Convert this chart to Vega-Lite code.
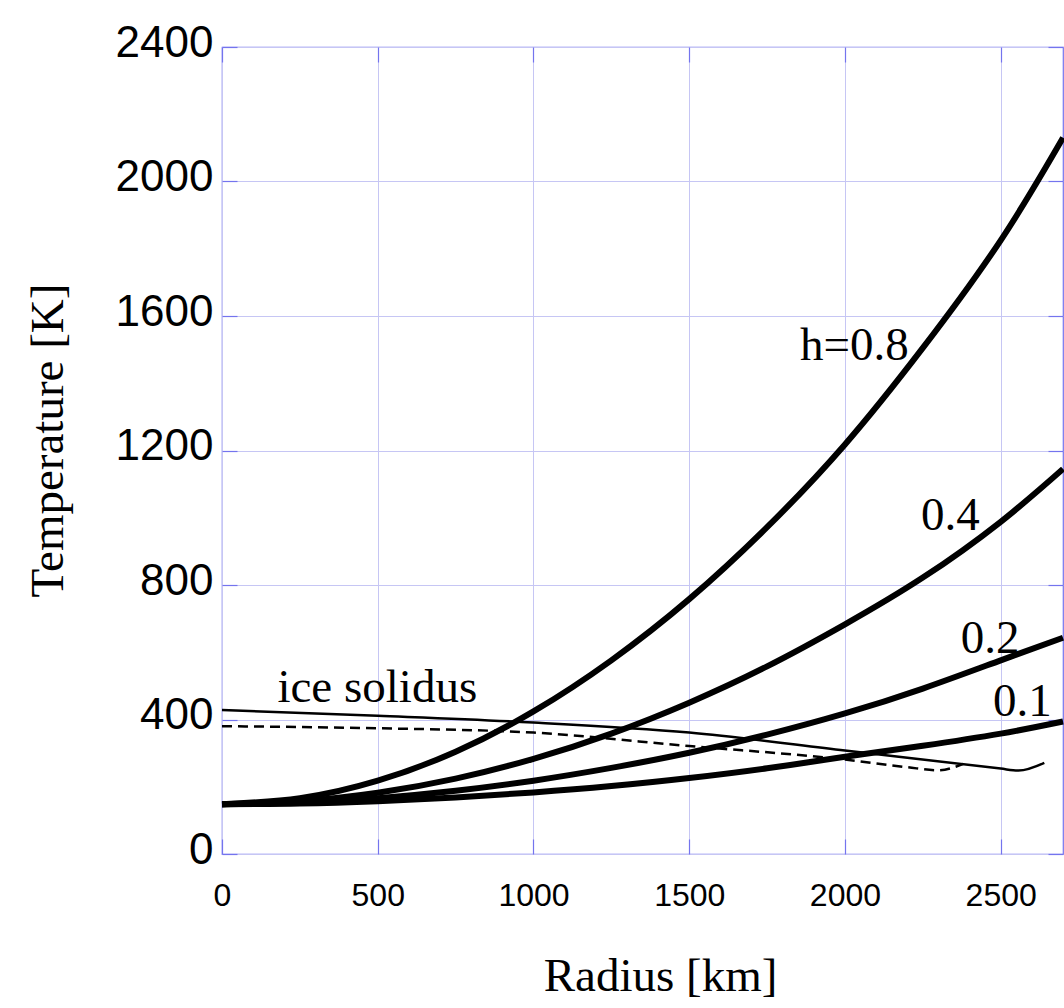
{
  "$schema": "https://vega.github.io/schema/vega-lite/v6.json",
  "width": 841,
  "height": 807,
  "autosize": {"type": "none"},
  "padding": {"left": 222, "top": 47, "right": 1, "bottom": 154},
  "background": "white",
  "config": {
    "view": {"stroke": "#7474ee", "strokeWidth": 1.2},
    "axis": {"domain": false}
  },
  "datasets": {
    "curves": [
      {"h": "0.8", "r": 0, "T": 148}, {"h": "0.8", "r": 250, "T": 166}, {"h": "0.8", "r": 500, "T": 218}, {"h": "0.8", "r": 750, "T": 304},
      {"h": "0.8", "r": 1000, "T": 424}, {"h": "0.8", "r": 1250, "T": 576}, {"h": "0.8", "r": 1500, "T": 758}, {"h": "0.8", "r": 1750, "T": 972},
      {"h": "0.8", "r": 2000, "T": 1218}, {"h": "0.8", "r": 2250, "T": 1505}, {"h": "0.8", "r": 2500, "T": 1825}, {"h": "0.8", "r": 2700, "T": 2130},
      {"h": "0.4", "r": 0, "T": 148}, {"h": "0.4", "r": 250, "T": 157}, {"h": "0.4", "r": 500, "T": 182}, {"h": "0.4", "r": 750, "T": 224},
      {"h": "0.4", "r": 1000, "T": 283}, {"h": "0.4", "r": 1250, "T": 358}, {"h": "0.4", "r": 1500, "T": 450}, {"h": "0.4", "r": 1750, "T": 558},
      {"h": "0.4", "r": 2000, "T": 683}, {"h": "0.4", "r": 2250, "T": 822}, {"h": "0.4", "r": 2500, "T": 988}, {"h": "0.4", "r": 2700, "T": 1145},
      {"h": "0.2", "r": 0, "T": 148}, {"h": "0.2", "r": 250, "T": 153}, {"h": "0.2", "r": 500, "T": 166}, {"h": "0.2", "r": 750, "T": 188},
      {"h": "0.2", "r": 1000, "T": 218}, {"h": "0.2", "r": 1250, "T": 256}, {"h": "0.2", "r": 1500, "T": 301}, {"h": "0.2", "r": 1750, "T": 355},
      {"h": "0.2", "r": 2000, "T": 418}, {"h": "0.2", "r": 2250, "T": 492}, {"h": "0.2", "r": 2500, "T": 576}, {"h": "0.2", "r": 2700, "T": 643},
      {"h": "0.1", "r": 0, "T": 148}, {"h": "0.1", "r": 250, "T": 150}, {"h": "0.1", "r": 500, "T": 157}, {"h": "0.1", "r": 750, "T": 168},
      {"h": "0.1", "r": 1000, "T": 183}, {"h": "0.1", "r": 1250, "T": 202}, {"h": "0.1", "r": 1500, "T": 226}, {"h": "0.1", "r": 1750, "T": 255},
      {"h": "0.1", "r": 2000, "T": 289}, {"h": "0.1", "r": 2250, "T": 322}, {"h": "0.1", "r": 2500, "T": 358}, {"h": "0.1", "r": 2700, "T": 394}
    ],
    "solidus": [
      {"r": 0, "T": 428}, {"r": 500, "T": 411}, {"r": 1000, "T": 391}, {"r": 1500, "T": 361},
      {"r": 2000, "T": 308}, {"r": 2500, "T": 254}, {"r": 2557, "T": 248}, {"r": 2640, "T": 271}
    ],
    "solidus2": [
      {"r": 0, "T": 380}, {"r": 500, "T": 374}, {"r": 1000, "T": 361}, {"r": 1500, "T": 321},
      {"r": 2000, "T": 281}, {"r": 2200, "T": 258}, {"r": 2300, "T": 249}, {"r": 2380, "T": 268}
    ],
    "labels": [
      {"label": "h=0.8", "r": 1856, "T": 1469},
      {"label": "0.4", "r": 2244, "T": 963},
      {"label": "0.2", "r": 2372, "T": 597},
      {"label": "0.1", "r": 2475, "T": 410},
      {"label": "ice solidus", "r": 178, "T": 452}
    ]
  },
  "resolve": {"axis": {"x": "independent", "y": "independent"}},
  "layer": [
    {
      "data": {"name": "solidus"},
      "mark": {"type": "line", "color": "black", "strokeWidth": 2.5, "interpolate": "monotone"},
      "encoding": {
        "x": {"field": "r", "type": "quantitative",
          "scale": {"domain": [0, 2700], "nice": false, "zero": false},
          "axis": {
            "orient": "bottom", "values": [0, 500, 1000, 1500, 2000, 2500], "format": "d",
            "ticks": false, "grid": true, "gridColor": "#c6c6f4", "gridWidth": 1,
            "labelFont": "Liberation Sans", "labelFontSize": 32, "labelColor": "black",
            "labelBaseline": "alphabetic", "labelPadding": 51, "labelFlush": false,
            "title": "Radius [km]", "titleFont": "Liberation Serif", "titleFontSize": 47,
            "titleFontWeight": "normal", "titleColor": "black",
            "titleX": 438, "titleY": 136, "titleAlign": "center", "titleBaseline": "alphabetic"
          }},
        "y": {"field": "T", "type": "quantitative",
          "scale": {"domain": [0, 2400], "nice": false},
          "axis": {
            "orient": "left", "values": [0, 400, 800, 1200, 1600, 2000, 2400], "format": "d",
            "ticks": false, "grid": true, "gridColor": "#c6c6f4", "gridWidth": 1,
            "labelFont": "Liberation Sans", "labelFontSize": 44, "labelColor": "black",
            "labelPadding": 9, "labelOffset": -4, "labelFlush": false,
            "title": "Temperature [K]", "titleFont": "Liberation Serif", "titleFontSize": 47,
            "titleFontWeight": "normal", "titleColor": "black",
            "titleAngle": 270, "titleX": -160, "titleY": 393, "titleAlign": "center", "titleBaseline": "alphabetic"
          }}
      }
    },
    {
      "data": {"name": "solidus2"},
      "mark": {"type": "line", "color": "black", "strokeWidth": 2.5, "strokeDash": [10, 6], "interpolate": "monotone"},
      "encoding": {
        "x": {"field": "r", "type": "quantitative",
          "axis": {"orient": "bottom", "values": [0, 500, 1000, 1500, 2000, 2500], "labels": false, "title": null, "grid": false, "ticks": true, "tickSize": -15, "tickColor": "#7474ee", "tickWidth": 1.2}},
        "y": {"field": "T", "type": "quantitative",
          "axis": {"orient": "left", "values": [0, 400, 800, 1200, 1600, 2000, 2400], "labels": false, "title": null, "grid": false, "ticks": true, "tickSize": -15, "tickColor": "#7474ee", "tickWidth": 1.2}}
      }
    },
    {
      "data": {"name": "curves"},
      "mark": {"type": "line", "color": "black", "strokeWidth": 6, "interpolate": "natural"},
      "encoding": {
        "x": {"field": "r", "type": "quantitative", "axis": null},
        "y": {"field": "T", "type": "quantitative", "axis": null},
        "detail": {"field": "h", "type": "nominal"}
      }
    },
    {
      "data": {"name": "labels"},
      "mark": {"type": "text", "font": "Liberation Serif", "fontSize": 47, "color": "black", "align": "left", "baseline": "alphabetic"},
      "encoding": {
        "x": {"field": "r", "type": "quantitative",
          "axis": {"orient": "top", "values": [0, 500, 1000, 1500, 2000, 2500], "labels": false, "title": null, "grid": false, "ticks": true, "tickSize": -15, "tickColor": "#7474ee", "tickWidth": 1.2}},
        "y": {"field": "T", "type": "quantitative",
          "axis": {"orient": "right", "values": [0, 400, 800, 1200, 1600, 2000, 2400], "labels": false, "title": null, "grid": false, "ticks": true, "tickSize": -15, "tickColor": "#7474ee", "tickWidth": 1.2}},
        "text": {"field": "label", "type": "nominal"}
      }
    }
  ]
}
